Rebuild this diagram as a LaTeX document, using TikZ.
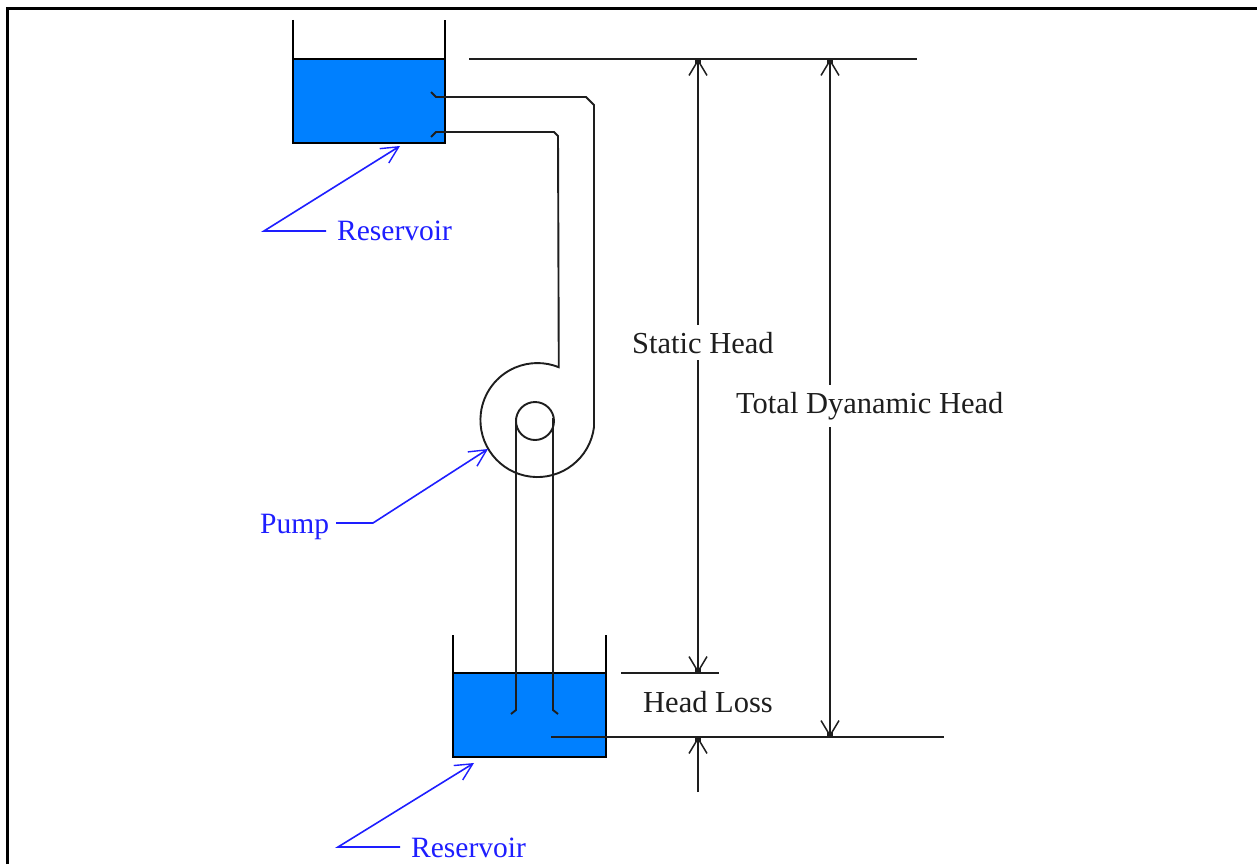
\documentclass[tikz,border=0pt]{standalone}
\usepackage{fontspec}
\setmainfont{Liberation Serif}
\usetikzlibrary{arrows.meta}
\definecolor{waterblue}{RGB}{0,128,255}
\definecolor{leaderblue}{RGB}{30,30,255}
\definecolor{inkgray}{RGB}{30,30,30}
\tikzset{
  dimtip/.tip={Straight Barb[length=15pt,width=18pt,line width=1.5pt,sep=-5pt]Square[length=5pt,width=6pt]},
  wall/.style={line width=1.9pt,color=black},
  pipe/.style={line width=1.9pt,color=inkgray},
  dimline/.style={line width=1.9pt,color=inkgray},
  dimarrow/.style={line width=1.9pt,color=inkgray,arrows={dimtip-dimtip}},
  dimarrowend/.style={line width=1.9pt,color=inkgray,arrows={-dimtip}},
  leader/.style={line width=1.6pt,color=leaderblue,
    arrows={-Straight Barb[length=17pt,width=17pt,line width=1.4pt]}},
  bluelabel/.style={text=leaderblue,inner sep=0pt,font=\fontsize{29.5}{34}\selectfont},
  dimlabel/.style={text=inkgray,inner sep=0pt,font=\fontsize{30.5}{34}\selectfont},
  masklabel/.style={dimlabel,fill=white,inner ysep=7pt}
}
\begin{document}
\begin{tikzpicture}[x=1pt,y=-1pt]
  \useasboundingbox (0,0) rectangle (1257,864);
  \fill[white] (0,0) rectangle (1257,864);
  % frame
  \draw[line width=3pt] (7.5,864) -- (7.5,8.5) -- (1257,8.5);
  % upper tank
  \fill[waterblue] (293,59) rectangle (445,143);
  \draw[wall] (293,20) -- (293,143) -- (445,143) -- (445,20);
  \draw[wall] (293,59) -- (445,59);
  % lower tank
  \fill[waterblue] (453,673) rectangle (606,757);
  \draw[wall] (453,635) -- (453,757) -- (606,757) -- (606,635);
  \draw[wall] (453,673) -- (606,673);
  % pipes and pump
  \draw[pipe] (431,92) -- (436,97) -- (586,97) -- (594,105) -- (594,427)
    arc[start angle=7,end angle=292,radius=57] -- (558,136)
    -- (554,132) -- (436,132) -- (431,137);
  \draw[pipe] (535,421) circle[radius=19];
  \draw[pipe] (516,418) -- (516,710) -- (511,714);
  \draw[pipe] (553,418) -- (553,710) -- (558,714);
  % levels
  \coordinate (uplevel) at (698,59);
  \coordinate (uplevelb) at (830,59);
  \coordinate (lowlevel) at (698,673);
  \coordinate (losslevel) at (698,737);
  \coordinate (losslevelb) at (830,737);
  \coordinate (losstail) at (698,792);
  \draw[dimline] (469,59) -- (917,59);
  \draw[dimline] (621,673) -- (719,673);
  \draw[dimline] (551,737) -- (944,737);
  \draw[dimarrow] (uplevel) -- (lowlevel);
  \draw[dimarrow] (uplevelb) -- (losslevelb);
  \draw[dimarrowend] (losstail) -- (losslevel);
  \node[masklabel,anchor=base west] (statichead) at (632,353) {Static Head};
  \node[masklabel,anchor=base west] (totalhead) at (736,413) {Total Dyanamic Head};
  \node[dimlabel,anchor=base west] (headloss) at (643,712) {Head Loss};
  % blue labels
  \node[bluelabel,anchor=base west] (topres) at (337,240) {Reservoir};
  \node[bluelabel,anchor=base west] (pumplbl) at (260,533) {Pump};
  \node[bluelabel,anchor=base west] (lowres) at (411,857) {Reservoir};
  \coordinate (topresstart) at (326,231);
  \coordinate (topresknee) at (264,231);
  \coordinate (topresend) at (400,146);
  \coordinate (pumpstart) at (336,523);
  \coordinate (pumpknee) at (373,523);
  \coordinate (pumpend) at (488,449);
  \coordinate (lowresstart) at (400,847);
  \coordinate (lowresknee) at (338,847);
  \coordinate (lowresend) at (474,763);
  \draw[leader] (topresstart) -- (topresknee) -- (topresend);
  \draw[leader] (pumpstart) -- (pumpknee) -- (pumpend);
  \draw[leader] (lowresstart) -- (lowresknee) -- (lowresend);
\end{tikzpicture}
\end{document}
